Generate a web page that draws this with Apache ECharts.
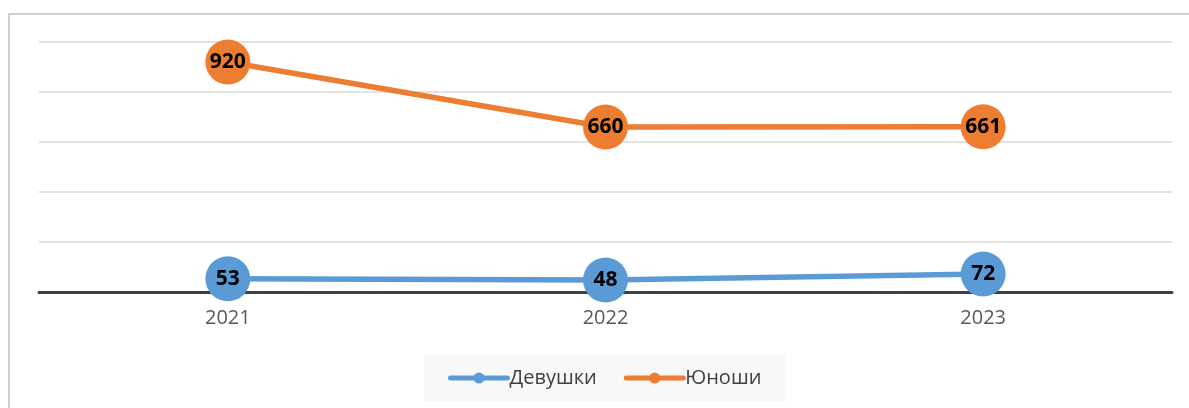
<!DOCTYPE html>
<html>
<head>
<meta charset="utf-8">
<script src="https://cdn.jsdelivr.net/npm/echarts@6/dist/echarts.min.js"></script>
<style>
  html, body { margin: 0; padding: 0; background: #fff; }
  #chart { width: 1189px; height: 408px; }
</style>
</head>
<body>
<div id="chart"></div>
<script>
  // data
  const years = ['2021', '2022', '2023'];
  const girls = [53, 48, 72];
  const boys = [920, 660, 661];

  const chart = echarts.init(document.getElementById('chart'));
  const font = '"Open Sans", "Noto Sans", sans-serif';

  chart.setOption({
    animation: false,
    textStyle: { fontFamily: font },
    graphic: [{
      type: 'rect',
      shape: { x: 9, y: 14, width: 1200, height: 420 },
      style: { fill: 'none', stroke: '#c0c0c0', lineWidth: 1.5 },
      z: -1
    }],
    grid: { left: 39, right: 17, top: 42, bottom: 116 },
    xAxis: {
      type: 'category',
      data: years,
      axisTick: { show: false },
      axisLine: { lineStyle: { color: '#404040', width: 3 } },
      axisLabel: { color: '#595959', fontSize: 20, margin: 16, fontFamily: font }
    },
    yAxis: {
      type: 'value',
      min: 0,
      max: 1000,
      interval: 200,
      axisLabel: { show: false },
      axisLine: { show: false },
      axisTick: { show: false },
      splitLine: { lineStyle: { color: '#d9d9d9', width: 1.5 } }
    },
    legend: {
      left: 424,
      top: 355,
      padding: [13, 24],
      backgroundColor: '#f8f8f8',
      itemWidth: 57,
      itemHeight: 14,
      itemGap: 27,
      lineStyle: { width: 5, cap: 'round' },
      textStyle: { color: '#404040', fontSize: 20, fontFamily: font, padding: [0, 0, 0, -3] },
      data: ['Девушки', 'Юноши']
    },
    series: [
      {
        name: 'Девушки',
        type: 'line',
        data: girls,
        symbol: 'circle',
        symbolSize: 45,
        color: '#5b9bd5',
        lineStyle: { width: 5.5, color: '#5b9bd5' },
        label: {
          show: true,
          position: 'inside',
          color: '#000',
          fontWeight: 'bold',
          fontSize: 21,
          fontFamily: font
        }
      },
      {
        name: 'Юноши',
        type: 'line',
        data: boys,
        symbol: 'circle',
        symbolSize: 45,
        color: '#ed7d31',
        lineStyle: { width: 5.5, color: '#ed7d31' },
        label: {
          show: true,
          position: 'inside',
          color: '#000',
          fontWeight: 'bold',
          fontSize: 21,
          fontFamily: font
        }
      }
    ]
  });
</script>
</body>
</html>
